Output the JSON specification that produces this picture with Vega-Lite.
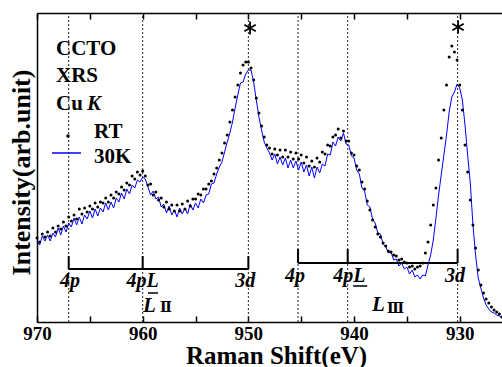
{
"$schema":"https://vega.github.io/schema/vega-lite/v6.json",
"width":465,"height":309,
"autosize":{"type":"none"},
"padding":{"left":37,"top":13,"right":0,"bottom":45},
"background":"white",
"config":{"view":{"stroke":null},"font":"Liberation Serif"},
"resolve":{"axis":{"x":"independent","y":"independent"}},
"datasets":{
"line":[{"E":970,"I":81},{"E":969.75,"I":77},{"E":969.5,"I":86},{"E":969.25,"I":81},{"E":969,"I":87},{"E":968.75,"I":81},{"E":968.5,"I":89},{"E":968.25,"I":85},{"E":968,"I":94},{"E":967.75,"I":87},{"E":967.5,"I":96},{"E":967.25,"I":90},{"E":967,"I":99},{"E":966.75,"I":95},{"E":966.5,"I":104},{"E":966.25,"I":97},{"E":966,"I":105},{"E":965.75,"I":98},{"E":965.5,"I":107},{"E":965.25,"I":103},{"E":965,"I":111},{"E":964.75,"I":104},{"E":964.5,"I":113},{"E":964.25,"I":106},{"E":964,"I":114},{"E":963.75,"I":110},{"E":963.5,"I":119},{"E":963.25,"I":112},{"E":963,"I":120},{"E":962.75,"I":114},{"E":962.5,"I":124},{"E":962.25,"I":120},{"E":962,"I":129},{"E":961.75,"I":123},{"E":961.5,"I":133},{"E":961.25,"I":128},{"E":961,"I":137},{"E":960.75,"I":134},{"E":960.5,"I":142},{"E":960.25,"I":140},{"E":960,"I":145},{"E":959.75,"I":143},{"E":959.5,"I":135},{"E":959.25,"I":127},{"E":959,"I":131},{"E":958.75,"I":123},{"E":958.5,"I":125},{"E":958.25,"I":115},{"E":958,"I":118},{"E":957.75,"I":109},{"E":957.5,"I":116},{"E":957.25,"I":107},{"E":957,"I":112},{"E":956.75,"I":105},{"E":956.5,"I":114},{"E":956.25,"I":108},{"E":956,"I":114},{"E":955.75,"I":108},{"E":955.5,"I":118},{"E":955.25,"I":112},{"E":955,"I":119},{"E":954.75,"I":114},{"E":954.5,"I":123},{"E":954.25,"I":119},{"E":954,"I":127},{"E":953.75,"I":128},{"E":953.5,"I":138},{"E":953.25,"I":139},{"E":953,"I":148},{"E":952.75,"I":155},{"E":952.5,"I":160},{"E":952.25,"I":170},{"E":952,"I":180},{"E":951.75,"I":189},{"E":951.5,"I":200},{"E":951.25,"I":214},{"E":951,"I":227},{"E":950.75,"I":239},{"E":950.5,"I":240},{"E":950.25,"I":248},{"E":950,"I":252},{"E":949.75,"I":252},{"E":949.5,"I":240},{"E":949.25,"I":222},{"E":949,"I":205},{"E":948.75,"I":192},{"E":948.5,"I":180},{"E":948.25,"I":174},{"E":948,"I":169},{"E":947.75,"I":162},{"E":947.5,"I":168},{"E":947.25,"I":158},{"E":947,"I":165},{"E":946.75,"I":157},{"E":946.5,"I":164},{"E":946.25,"I":154},{"E":946,"I":162},{"E":945.75,"I":154},{"E":945.5,"I":161},{"E":945.25,"I":152},{"E":945,"I":160},{"E":944.75,"I":150},{"E":944.5,"I":157},{"E":944.25,"I":146},{"E":944,"I":155},{"E":943.75,"I":144},{"E":943.5,"I":155},{"E":943.25,"I":149},{"E":943,"I":158},{"E":942.75,"I":156},{"E":942.5,"I":168},{"E":942.25,"I":167},{"E":942,"I":180},{"E":941.75,"I":176},{"E":941.5,"I":185},{"E":941.25,"I":181},{"E":941,"I":189},{"E":940.75,"I":178},{"E":940.5,"I":177},{"E":940.25,"I":166},{"E":940,"I":164},{"E":939.75,"I":152},{"E":939.5,"I":148},{"E":939.25,"I":134},{"E":939,"I":131},{"E":938.75,"I":117},{"E":938.5,"I":115},{"E":938.25,"I":103},{"E":938,"I":99},{"E":937.75,"I":89},{"E":937.5,"I":88},{"E":937.25,"I":78},{"E":937,"I":75},{"E":936.75,"I":69},{"E":936.5,"I":70},{"E":936.25,"I":62},{"E":936,"I":63},{"E":935.75,"I":56},{"E":935.5,"I":59},{"E":935.25,"I":53},{"E":935,"I":55},{"E":934.75,"I":48},{"E":934.5,"I":52},{"E":934.25,"I":45},{"E":934,"I":47},{"E":933.75,"I":43},{"E":933.5,"I":47},{"E":933.25,"I":46},{"E":933,"I":57},{"E":932.75,"I":67},{"E":932.5,"I":82},{"E":932.25,"I":104},{"E":932,"I":127},{"E":931.75,"I":147},{"E":931.5,"I":167},{"E":931.25,"I":187},{"E":931,"I":210},{"E":930.75,"I":225},{"E":930.5,"I":230},{"E":930.25,"I":238},{"E":930,"I":234},{"E":929.75,"I":222},{"E":929.5,"I":197},{"E":929.25,"I":167},{"E":929,"I":139},{"E":928.75,"I":97},{"E":928.5,"I":67},{"E":928.25,"I":44},{"E":928,"I":34},{"E":927.75,"I":24},{"E":927.5,"I":17},{"E":927.25,"I":13},{"E":927,"I":10},{"E":926.75,"I":9},{"E":926.5,"I":7},{"E":926.25,"I":6},{"E":926,"I":4}],
"dots":[{"E":970,"I":84},{"E":969.75,"I":80},{"E":969.5,"I":88},{"E":969.25,"I":85},{"E":969,"I":90},{"E":968.75,"I":86},{"E":968.5,"I":94},{"E":968.25,"I":90},{"E":968,"I":96},{"E":967.75,"I":93},{"E":967.5,"I":100},{"E":967.25,"I":96},{"E":967,"I":105},{"E":966.75,"I":101},{"E":966.5,"I":107},{"E":966.25,"I":103},{"E":966,"I":113},{"E":965.75,"I":108},{"E":965.5,"I":114},{"E":965.25,"I":110},{"E":965,"I":116},{"E":964.75,"I":113},{"E":964.5,"I":119},{"E":964.25,"I":115},{"E":964,"I":120},{"E":963.75,"I":119},{"E":963.5,"I":124},{"E":963.25,"I":120},{"E":963,"I":127},{"E":962.75,"I":124},{"E":962.5,"I":130},{"E":962.25,"I":128},{"E":962,"I":135},{"E":961.75,"I":132},{"E":961.5,"I":139},{"E":961.25,"I":137},{"E":961,"I":146},{"E":960.75,"I":143},{"E":960.5,"I":150},{"E":960.25,"I":147},{"E":960,"I":151},{"E":959.75,"I":146},{"E":959.5,"I":137},{"E":959.25,"I":138},{"E":959,"I":127},{"E":958.75,"I":130},{"E":958.5,"I":122},{"E":958.25,"I":124},{"E":958,"I":115},{"E":957.75,"I":120},{"E":957.5,"I":113},{"E":957.25,"I":117},{"E":957,"I":111},{"E":956.75,"I":117},{"E":956.5,"I":111},{"E":956.25,"I":118},{"E":956,"I":113},{"E":955.75,"I":121},{"E":955.5,"I":116},{"E":955.25,"I":123},{"E":955,"I":123},{"E":954.75,"I":128},{"E":954.5,"I":127},{"E":954.25,"I":133},{"E":954,"I":133},{"E":953.75,"I":138},{"E":953.5,"I":141},{"E":953.25,"I":148},{"E":953,"I":154},{"E":952.75,"I":162},{"E":952.5,"I":169},{"E":952.25,"I":179},{"E":952,"I":187},{"E":951.75,"I":200},{"E":951.5,"I":212},{"E":951.25,"I":225},{"E":951,"I":237},{"E":950.75,"I":249},{"E":950.5,"I":257},{"E":950.25,"I":260},{"E":950,"I":260},{"E":949.75,"I":254},{"E":949.5,"I":242},{"E":949.25,"I":224},{"E":949,"I":209},{"E":948.75,"I":196},{"E":948.5,"I":185},{"E":948.25,"I":177},{"E":948,"I":174},{"E":947.75,"I":168},{"E":947.5,"I":173},{"E":947.25,"I":167},{"E":947,"I":172},{"E":946.75,"I":165},{"E":946.5,"I":172},{"E":946.25,"I":165},{"E":946,"I":170},{"E":945.75,"I":163},{"E":945.5,"I":169},{"E":945.25,"I":163},{"E":945,"I":167},{"E":944.75,"I":159},{"E":944.5,"I":165},{"E":944.25,"I":156},{"E":944,"I":161},{"E":943.75,"I":155},{"E":943.5,"I":164},{"E":943.25,"I":160},{"E":943,"I":170},{"E":942.75,"I":168},{"E":942.5,"I":177},{"E":942.25,"I":176},{"E":942,"I":185},{"E":941.75,"I":187},{"E":941.5,"I":193},{"E":941.25,"I":184},{"E":941,"I":191},{"E":940.75,"I":181},{"E":940.5,"I":181},{"E":940.25,"I":169},{"E":940,"I":167},{"E":939.75,"I":156},{"E":939.5,"I":152},{"E":939.25,"I":140},{"E":939,"I":133},{"E":938.75,"I":121},{"E":938.5,"I":112},{"E":938.25,"I":102},{"E":938,"I":95},{"E":937.75,"I":88},{"E":937.5,"I":85},{"E":937.25,"I":79},{"E":937,"I":76},{"E":936.75,"I":71},{"E":936.5,"I":70},{"E":936.25,"I":67},{"E":936,"I":66},{"E":935.75,"I":62},{"E":935.5,"I":63},{"E":935.25,"I":60},{"E":935,"I":59},{"E":934.75,"I":55},{"E":934.5,"I":56},{"E":934.25,"I":53},{"E":934,"I":55},{"E":933.75,"I":56},{"E":933.5,"I":59},{"E":933.25,"I":69},{"E":933,"I":80},{"E":932.75,"I":97},{"E":932.5,"I":117},{"E":932.25,"I":134},{"E":932,"I":162},{"E":931.75,"I":184},{"E":931.5,"I":212},{"E":931.25,"I":237},{"E":931,"I":265},{"E":930.75,"I":276},{"E":930.5,"I":270},{"E":930.25,"I":262},{"E":930,"I":237},{"E":929.75,"I":212},{"E":929.5,"I":177},{"E":929.25,"I":150},{"E":929,"I":122},{"E":928.75,"I":97},{"E":928.5,"I":74},{"E":928.25,"I":52},{"E":928,"I":37},{"E":927.75,"I":29},{"E":927.5,"I":23},{"E":927.25,"I":19},{"E":927,"I":15},{"E":926.75,"I":12},{"E":926.5,"I":10},{"E":926.25,"I":8},{"E":926,"I":5}]
},
"encoding":{
"x":{"field":"E","type":"quantitative","scale":{"domain":[970,926],"nice":false,"zero":false},"axis":null},
"y":{"field":"I","type":"quantitative","scale":{"domain":[0,309],"nice":false,"zero":false},"axis":null}
},
"layer":[
{"data":{"values":[{"E":967,"I":0,"I2":309},{"E":960,"I":0,"I2":309},{"E":950,"I":0,"I2":309},{"E":945.3,"I":0,"I2":309},{"E":940.6,"I":0,"I2":309},{"E":930.2,"I":0,"I2":309}]},
"mark":{"type":"rule","strokeDash":[2,2],"color":"#222222","strokeWidth":1},
"encoding":{
"x":{"field":"E","type":"quantitative","scale":{"domain":[970,926],"nice":false,"zero":false},"axis":{"orient":"top","values":[970,965,960,955,950,945,940,935,930],"labels":false,"tickSize":-6,"tickWidth":1.5,"tickColor":"black","domainColor":"black","domainWidth":1.5,"grid":false,"title":null}},
"y2":{"field":"I2"}}},
{"data":{"name":"line"},
"mark":{"type":"line","color":"#0000ff","strokeWidth":1},
"encoding":{
"x":{"field":"E","type":"quantitative","scale":{"domain":[970,926],"nice":false,"zero":false},"axis":{"orient":"bottom","values":[970,965,960,955,950,945,940,935,930],"labelExpr":"datum.value % 10 === 0 ? datum.label : ''","tickSize":-6,"tickWidth":1.5,"tickColor":"black","domainColor":"black","domainWidth":1.5,"grid":false,"labelFont":"Liberation Serif","labelFontWeight":"bold","labelFontSize":19,"labelColor":"black","labelPadding":8,"labelFlush":false,"labelOverlap":false,"title":"Raman Shift(eV)","titleFont":"Liberation Serif","titleFontSize":25,"titleFontWeight":"bold","titleColor":"black","titleX":239,"titleY":41,"titleBaseline":"alphabetic"}},
"y":{"field":"I","type":"quantitative","scale":{"domain":[0,309],"nice":false,"zero":false},"axis":{"orient":"left","ticks":false,"labels":false,"domainColor":"black","domainWidth":1.5,"grid":false,"title":"Intensity(arb.unit)","titleFont":"Liberation Serif","titleFontSize":26,"titleFontWeight":"bold","titleColor":"black","titleX":-8,"titleY":159,"titleBaseline":"alphabetic","titleAngle":-90}}}},
{"data":{"name":"dots"},"mark":{"type":"point","filled":true,"color":"black","size":9,"opacity":1}},
{"data":{"values":[{"E":967,"E2":950,"I":53},{"E":945.3,"E2":930.2,"I":59}]},"mark":{"type":"rule","color":"black","strokeWidth":2},"encoding":{"x2":{"field":"E2"}}},
{"data":{"values":[{"E":967,"I":53,"I2":66},{"E":960,"I":53,"I2":66},{"E":950,"I":53,"I2":66},{"E":945.3,"I":59,"I2":73},{"E":940.6,"I":59,"I2":73},{"E":930.2,"I":59,"I2":73}]},"mark":{"type":"rule","color":"black","strokeWidth":2},"encoding":{"y2":{"field":"I2"}}},
{"data":{"values":[{"E":959.5,"E2":958.55,"I":29},{"E":940.1,"E2":938.75,"I":36}]},"mark":{"type":"rule","color":"black","strokeWidth":1.5},"encoding":{"x2":{"field":"E2"}}},
{"data":{"values":[{"E":966.88,"I":35,"t":"4p"},{"E":960,"I":35,"t":"4pL"},{"E":950.3,"I":35,"t":"3d"},{"E":945.58,"I":40,"t":"4p"},{"E":940.45,"I":40,"t":"4pL"},{"E":930.44,"I":40,"t":"3d"}]},"mark":{"type":"text","font":"Liberation Serif","fontSize":20,"fontWeight":"bold","fontStyle":"italic","align":"center","baseline":"alphabetic","color":"black"},"encoding":{"text":{"field":"t"}}},
{"data":{"values":[{"E":959.97,"I":10,"t":"L"},{"E":938.3,"I":11,"t":"L"}]},"mark":{"type":"text","font":"Liberation Serif","fontSize":21,"fontWeight":"bold","fontStyle":"italic","align":"left","baseline":"alphabetic","color":"black"},"encoding":{"text":{"field":"t"}}},
{"data":{"values":[{"E":958.36,"I":10,"t":"Ⅱ"},{"E":936.88,"I":9,"t":"Ⅲ"}]},"mark":{"type":"text","font":"DejaVu Serif","fontSize":14,"fontWeight":"bold","align":"left","baseline":"alphabetic","color":"black"},"encoding":{"text":{"field":"t"}}},
{"data":{"values":[{"E":968.2,"I":267,"t":"CCTO"},{"E":968.2,"I":240,"t":"XRS"},{"E":968.2,"I":212,"t":"Cu"},{"E":964.6,"I":184,"t":"RT"},{"E":964.6,"I":159,"t":"30K"}]},"mark":{"type":"text","font":"Liberation Serif","fontSize":21,"fontWeight":"bold","align":"left","baseline":"alphabetic","color":"black"},"encoding":{"text":{"field":"t"}}},
{"data":{"values":[{"E":965.27,"I":212,"t":"K"}]},"mark":{"type":"text","font":"Liberation Serif","fontSize":21,"fontWeight":"bold","fontStyle":"italic","align":"left","baseline":"alphabetic","color":"black"},"encoding":{"text":{"field":"t"}}},
{"data":{"values":[{"E":967.07,"I":186}]},"mark":{"type":"point","filled":true,"color":"black","size":12,"opacity":1}},
{"data":{"values":[{"E":968.58,"E2":965.84,"I":169}]},"mark":{"type":"rule","color":"#0000ff","strokeWidth":1.5},"encoding":{"x2":{"field":"E2"}}},
{"data":{"values":[{"E":949.84,"I":294},{"E":930.16,"I":295}]},"mark":{"type":"point","shape":"M0,-1L0,1M-0.87,-0.5L0.87,0.5M-0.87,0.5L0.87,-0.5","filled":false,"color":"black","strokeWidth":1.8,"size":170,"opacity":1}}
]
}
